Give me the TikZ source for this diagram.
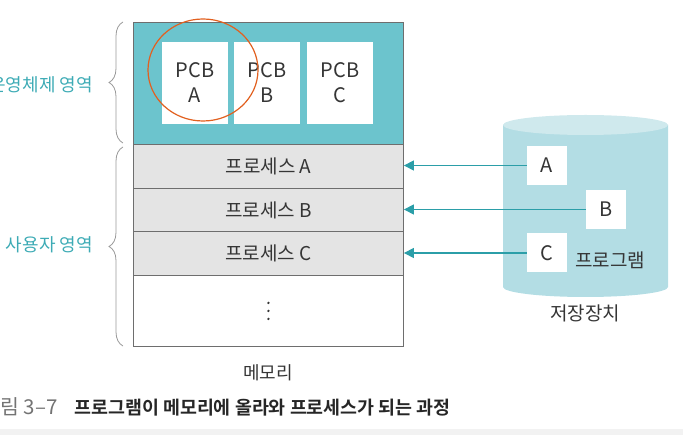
\documentclass[tikz,border=0pt]{standalone}
\usepackage{fontspec}
\setmainfont{Noto Sans CJK KR}[BoldFont={Noto Sans CJK KR Bold}]
\usepackage{tikz}
\usetikzlibrary{arrows.meta, decorations.pathreplacing}

\definecolor{osteal}{HTML}{6CC4CD}
\definecolor{rowgray}{HTML}{E4E4E4}
\definecolor{diskbody}{HTML}{B3DDE4}
\definecolor{disktop}{HTML}{CFE9ED}
\definecolor{arrowteal}{HTML}{2B9EA8}
\definecolor{labelteal}{HTML}{3DABB5}
\definecolor{textgray}{HTML}{353535}
\definecolor{edgegray}{HTML}{6E6E6E}
\definecolor{penorange}{HTML}{E2601F}

\begin{document}
\begin{tikzpicture}[x=1pt, y=-1pt,
  every node/.style={font=\fontsize{19}{21}\selectfont, text=textgray, inner sep=0pt},
  memrow/.style={draw=edgegray, line width=0.9pt, fill=rowgray, minimum width=270pt, anchor=north west},
  pcbbox/.style={fill=white, minimum width=66pt, minimum height=82pt, align=center, font=\fontsize{20}{25}\selectfont},
  progbox/.style={fill=white, minimum width=40pt, minimum height=39pt, font=\fontsize{20}{22}\selectfont},
  loadarrow/.style={arrowteal, line width=1.2pt, -{Triangle[length=10pt, width=10pt]}},
  areabrace/.style={decorate, decoration={brace, amplitude=14pt}, draw=gray!80, line width=0.8pt},
  arealabel/.style={text=labelteal, anchor=east, font=\fontsize{18}{20}\selectfont}]
  \useasboundingbox (0,0) rectangle (683,435);
  \fill[gray!10] (0,429) rectangle (683,435);
  % memory
  \node[memrow, fill=osteal, minimum height=122pt] (os) at (133,22) {};
  \node[memrow, minimum height=44pt] (pa) at (133,144) {프로세스 A};
  \node[memrow, minimum height=43pt] (pb) at (133,188) {프로세스 B};
  \node[memrow, minimum height=44pt] (pc) at (133,231) {프로세스 C};
  \node[memrow, fill=white, minimum height=71pt] (free) at (133,275) {};
  \foreach \dy in {-8,0,8}
    \fill[textgray] ([yshift=\dy pt]free.center) circle (1.3pt);
  \node[pcbbox] (pcba) at (195,83) {PCB\\A};
  \node[pcbbox] (pcbb) at (267,83) {PCB\\B};
  \node[pcbbox] (pcbc) at (340,83) {PCB\\C};
  \node[font=\fontsize{18}{20}\selectfont] (memlabel) at (268,373) {메모리};
  % braces
  \draw[areabrace] (123,143) -- (123,22);
  \draw[areabrace] (123,346) -- (123,147);
  \node[arealabel] (oslabel) at (93,85) {운영체제 영역};
  \node[arealabel] (userlabel) at (93,245) {사용자 영역};
  % storage
  \fill[diskbody] (503,125) -- (503,287) arc[start angle=180, end angle=360, x radius=82.5pt, y radius=10pt] -- (668,125) -- cycle;
  \fill[disktop] (585.5,125) ellipse [x radius=82.5pt, y radius=10pt];
  \node[progbox] (proga) at (547,165.5) {A};
  \node[progbox] (progb) at (606,209.5) {B};
  \node[progbox] (progc) at (547,253) {C};
  \node (proglabel) at (610,260) {프로그램};
  \node (disklabel) at (585,313) {저장장치};
  \draw[loadarrow] (proga) -- (proga -| pa.east);
  \draw[loadarrow] (progb) -- (progb -| pb.east);
  \draw[loadarrow] (progc) -- (progc -| pc.east);
  % caption
  \node[anchor=west, font=\fontsize{18.4}{20}\selectfont] (caption) at (0,407)
    {\textcolor{gray!90!black}{\fontsize{20.5}{22}\selectfont 림 3–7}\hspace{17pt}\textcolor{black!85}{\bfseries 프로그램이 메모리에 올라와 프로세스가 되는 과정}};
  % pen mark
  \draw[penorange, line width=1.2pt] (203,70) ellipse [x radius=55pt, y radius=51pt];
\end{tikzpicture}
\end{document}
